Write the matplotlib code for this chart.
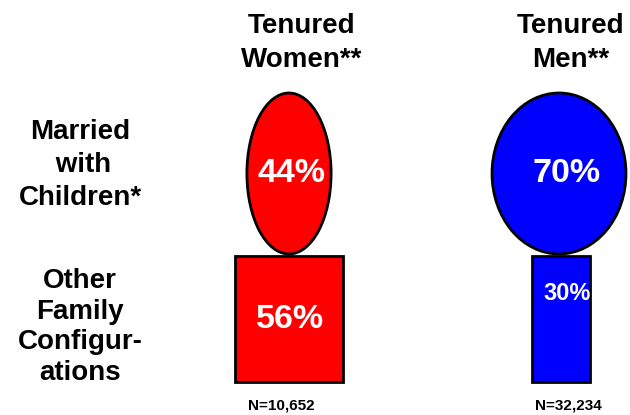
import matplotlib
matplotlib.use("Agg")
import numpy as np
import matplotlib.pyplot as plt
from matplotlib.patches import Ellipse, Rectangle

plt.rcParams['font.family'] = ['Liberation Sans', 'DejaVu Sans']
plt.rcParams['font.weight'] = 'bold'

# data
groups = ["Tenured\nWomen**", "Tenured\nMen**"]
married_pct = [44, 70]
other_pct = [56, 30]
n_labels = ["N=10,652", "N=32,234"]
row_labels = ["Married\n with\nChildren*", "Other\nFamily\nConfigur-\nations"]
colors = ["#ff0000", "#0000ff"]

# layout (pixel units)
col_x = [289, 559]
title_x = [302, 571]
n_x = [281, 568]
ell_y, ell_h = 173.5, 161
rect_top, rect_h = 256, 126
area_per_pct = 242.0

fig = plt.figure(figsize=(6.3, 4.15), dpi=100)
ax = fig.add_axes([0, 0, 1, 1])
ax.set_xlim(0, 630)
ax.set_ylim(415, 0)
ax.axis('off')

for i in range(len(groups)):
    cx = col_x[i]
    # ellipse for married, area proportional to share
    ew = married_pct[i] * area_per_pct / (np.pi / 4 * ell_h)
    ax.add_patch(Ellipse((cx, ell_y), ew, ell_h, facecolor=colors[i],
                         edgecolor='black', lw=2))
    # box for other configurations
    rw = other_pct[i] * area_per_pct / rect_h
    ax.add_patch(Rectangle((cx - rw / 2 + 2 * i, rect_top), rw, rect_h,
                           facecolor=colors[i], edgecolor='black', lw=2))

    ax.text(title_x[i], 43, groups[i], ha='center', va='center',
            fontsize=20, linespacing=1.37)
    ax.text(cx + 3 + 5 * i, ell_y, f"{married_pct[i]}%", ha='center',
            va='center', color='white', fontsize=24.5)
    if other_pct[i] >= 40:
        ax.text(cx + 1, 319, f"{other_pct[i]}%", ha='center', va='center',
                color='white', fontsize=24.5)
    else:
        ax.text(cx + 8, 293, f"{other_pct[i]}%", ha='center', va='center',
                color='white', fontsize=17)
    ax.text(n_x[i], 405, n_labels[i], ha='center', va='center', fontsize=11)

ax.text(80, 165, row_labels[0], ha='center', va='center',
        fontsize=20, linespacing=1.37)
ax.text(80, 327, row_labels[1], ha='center', va='center',
        fontsize=20, linespacing=1.23)

fig.savefig("out.png", dpi=100)
